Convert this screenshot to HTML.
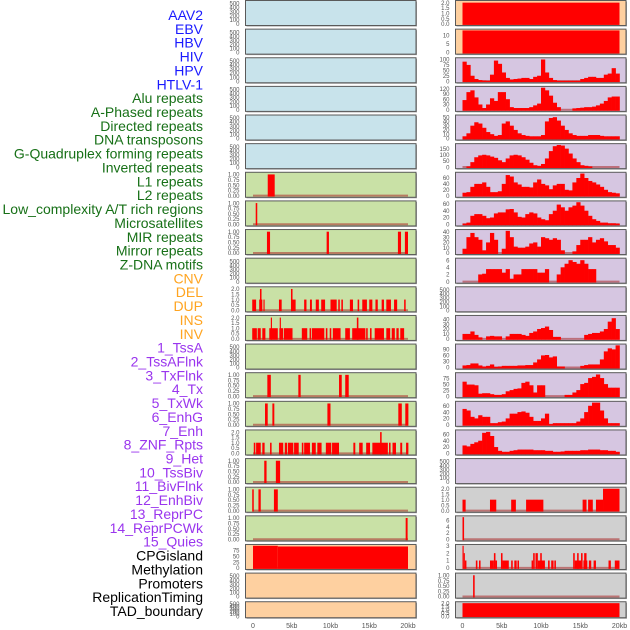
<!DOCTYPE html>
<html><head><meta charset="utf-8"><style>
html,body{margin:0;padding:0;background:#fff;}
svg{display:block;font-family:"Liberation Sans",sans-serif;}
</style></head><body>
<svg id="chart" width="630" height="630" viewBox="0 0 630 630" xmlns="http://www.w3.org/2000/svg"></svg>
<script>
// ---- labels ----
const trackLabels = ["AAV2","EBV","HBV","HIV","HPV","HTLV-1","Alu repeats","A-Phased repeats","Directed repeats","DNA transposons","G-Quadruplex forming repeats","Inverted repeats","L1 repeats","L2 repeats","Low_complexity A/T rich regions","Microsatellites","MIR repeats","Mirror repeats","Z-DNA motifs","CNV","DEL","DUP","INS","INV","1_TssA","2_TssAFlnk","3_TxFlnk","4_Tx","5_TxWk","6_EnhG","7_Enh","8_ZNF_Rpts","9_Het","10_TssBiv","11_BivFlnk","12_EnhBiv","13_ReprPC","14_ReprPCWk","15_Quies","CPGisland","Methylation","Promoters","ReplicationTiming","TAD_boundary"];
const labelGroups = ["virus","virus","virus","virus","virus","virus","rep","rep","rep","rep","rep","rep","rep","rep","rep","rep","rep","rep","rep","sv","sv","sv","sv","sv","cs","cs","cs","cs","cs","cs","cs","cs","cs","cs","cs","cs","cs","cs","cs","oth","oth","oth","oth","oth"];
const xTickValues = [0,5,10,15,20];
const xTickLabels = ["0","5kb","10kb","15kb","20kb"];

// ---- left column interval data [startKb, endKb, value] ----
const barsL7 = [[1.9,2.8,1]];
const barsL8 = [[0.35,0.55,1]];
const barsL9 = [[1.8,2.2,1],[9.5,9.8,1],[18.7,19.1,1],[19.6,20,1]];
const barsL11 = [[-0.1,0.4,1],[0.8,1.2,1],[0.9,1.1,2],[1.35,1.5,1],[3.35,3.7,1],[4.9,5.5,1],[4.9,5.1,2],[6.6,6.9,1],[7.35,7.6,1],[8.1,8.5,1],[8.8,9.3,1],[10,10.8,1],[11,11.2,1],[11.4,11.6,1],[12.5,12.9,1],[13.5,13.7,1],[14.1,14.7,1],[15,15.4,1],[15.8,16.1,1],[16.6,16.9,1],[17.2,17.8,1],[18.2,18.6,1],[19.5,19.7,1]];
const barsL12 = [[-0.1,0.5,1],[0.6,1.0,1],[1.2,1.6,1],[2.1,3.2,1],[2.3,2.45,2],[3.4,3.9,1],[3.45,3.6,2],[4.0,5.1,1],[6.3,7.0,1],[7.3,7.5,1],[7.6,9.2,1],[9.4,9.6,1],[9.9,10.1,1],[10.3,11.3,1],[11.9,12.5,1],[12.8,14.5,1],[13.4,13.6,2],[14.6,14.8,1],[15.1,15.3,1],[15.7,16.9,1],[17.2,17.7,1],[17.9,18.3,1],[18.5,18.8,1],[19.0,19.5,1]];
const barsL14 = [[1.85,2.3,1],[5.85,6.15,1],[11.1,11.45,1],[11.9,12.35,1]];
const barsL15 = [[1.55,1.9,1],[2.5,2.75,1],[9.6,10.0,1],[18.75,19.2,1],[19.65,20.05,1]];
const barsL16 = [[0.1,0.3,1],[0.4,1.0,1],[1.2,1.5,1],[2.2,2.4,1],[3.35,3.9,1],[4.1,4.4,1],[4.5,5.2,1],[5.3,5.9,1],[6.3,6.5,1],[6.6,7.35,1],[7.6,8.1,1],[8.3,8.85,1],[9.4,10.1,1],[10.2,11.1,1],[12.95,13.2,1],[13.7,14.15,1],[14.6,15.1,1],[15.4,17.4,1],[16.4,16.6,2],[17.55,17.75,1],[18.0,18.45,1],[19.0,19.25,1],[19.75,20.05,1]];
const barsL17 = [[1.45,1.75,1],[2.95,3.5,1]];
const barsL18 = [[-0.1,0.1,1],[0.7,1.0,1],[2.7,3.2,1]];
const barsL19 = [[19.7,19.95,1]];
const barsL20 = [[0,3.2,95],[3.2,20,92]];

// ---- right column binned profiles (0.5kb bins, 0..20kb) ----
const profR3 = [90,75,25,10,5,3,2,30,95,80,40,15,8,10,12,15,15,10,20,25,100,40,15,5,2,2,2,2,2,2,10,15,20,20,15,15,30,35,60,35];
const profR4 = [55,100,110,70,30,10,30,65,50,100,100,60,15,10,10,10,10,15,25,35,125,110,80,40,15,0,0,0,8,10,12,15,15,18,25,35,50,70,75,75];
const profR5 = [5,12,30,38,35,25,15,10,6,8,35,40,30,20,12,8,6,5,5,5,8,40,48,50,42,30,20,12,8,6,6,6,8,8,8,6,5,5,5,5];
const profR6 = [0,5,40,80,95,100,95,85,75,55,40,70,95,100,95,80,60,35,15,10,25,70,130,170,180,175,150,110,70,40,15,10,5,0,0,0,0,0,0,0];
const profR7 = [10,12,30,40,40,45,30,12,12,15,40,70,65,45,38,30,30,28,45,55,40,35,22,35,40,40,20,18,45,60,75,60,50,45,38,30,20,12,10,8];
const profR8 = [2,5,25,30,30,25,18,20,32,35,35,44,45,35,22,20,30,35,32,20,15,12,30,40,58,50,40,50,55,65,55,40,25,15,10,5,5,3,3,2];
const profR9 = [8,30,38,30,25,5,20,38,25,0,8,42,30,12,10,10,12,18,20,12,30,28,25,28,25,5,0,0,3,15,25,25,30,20,25,28,22,15,15,10];
const profR10 = [0,0,0,0,2,2.2,3.5,3.5,3.5,3.5,2.5,3.5,0.8,2,2,3.5,3.5,3.5,3.5,2.5,2.5,3.5,0,0,2,4,5,6,5.5,5,6,5,3.5,3.5,0,0,0,0,0,0];
const profR12 = [10,10,15,8,3,0,5,6,5,5,0,5,10,10,10,8,6,12,15,20,22,25,18,4,4,0,0,0,0,0,0,8,10,12,12,15,20,35,42,20];
const profR13 = [10,12,20,20,10,5,8,15,3,5,8,8,8,8,10,10,12,12,25,40,60,62,50,55,5,5,0,0,0,0,8,12,15,15,15,40,80,95,90,110];
const profR14 = [60,48,48,45,10,12,12,8,5,5,8,20,25,30,32,55,60,45,15,45,45,0,0,0,0,0,5,5,15,25,50,55,75,80,90,75,50,35,35,35];
const profR15 = [50,45,25,20,30,25,25,5,5,8,10,20,35,35,40,42,38,25,12,12,20,35,2,5,5,5,5,5,5,10,20,40,60,70,70,45,20,5,5,5];
const profR16 = [25,22,30,35,40,65,68,55,20,8,5,5,8,10,12,12,12,12,10,10,10,8,8,5,5,6,8,8,8,8,10,10,12,12,12,10,10,8,8,5];

// ---- right column interval data ----
const barsR1 = [[0,20,2]];
const barsR2 = [[0,20,13]];
const barsR18 = [[0,0.4,1],[3.5,4.3,1],[6.2,6.8,1],[8.1,10.3,1],[15.3,15.8,1],[16,16.6,1],[17,17.9,1],[17.9,20,2]];
const barsR19 = [[0,0.2,7]];
const barsR20 = [[0,0.15,3],[0.15,0.3,2],[0.3,0.5,1],[1.7,1.9,1],[2.1,2.3,1],[3.5,4.0,1],[4.0,4.2,2],[4.2,4.4,1],[4.9,5.1,2],[5.1,5.9,1],[6.2,6.4,1],[6.6,6.9,1],[7.0,7.2,1],[8.8,9.0,1],[9.0,9.2,2],[9.3,9.6,2],[9.6,10.5,1],[9.9,10.1,2],[10.9,11.1,1],[11.3,11.6,1],[11.7,11.9,1],[14.1,14.3,2],[14.3,15.1,1],[14.6,14.8,2],[15.1,15.3,2],[15.4,15.9,1],[15.5,15.8,2],[16.1,16.4,1],[16.7,17.0,1],[18.6,18.9,1],[19.4,20,1]];
const barsR21 = [[1.35,1.55,1]];
const barsR22 = [[0,20,2]];

// tick sets
const ticksEmpty = [0,100,200,300,400,500];
const ticksUnit = [0,0.25,0.5,0.75,1];
const ticksTwo = [0,0.5,1,1.5,2];

const BG = {blue:"#c8e3eb",green:"#c9e1a6",orange:"#fed0a0",purple:"#d6c6e1",gray:"#d0d0d0"};
const leftCfg = [
 ["blue",540,ticksEmpty,null,null],["blue",540,ticksEmpty,null,null],["blue",540,ticksEmpty,null,null],
 ["blue",540,ticksEmpty,null,null],["blue",540,ticksEmpty,null,null],["blue",540,ticksEmpty,null,null],
 ["green",1.04,ticksUnit,barsL7,null],["green",1.04,ticksUnit,barsL8,null],["green",1.04,ticksUnit,barsL9,null],
 ["green",540,ticksEmpty,null,null],["green",2.08,ticksTwo,barsL11,null],["green",2.08,ticksTwo,barsL12,null],
 ["green",540,ticksEmpty,null,null],["green",1.04,ticksUnit,barsL14,null],["green",1.04,ticksUnit,barsL15,null],
 ["green",2.08,ticksTwo,barsL16,null],["green",1.04,ticksUnit,barsL17,null],["green",1.04,ticksUnit,barsL18,null],
 ["green",1.04,ticksUnit,barsL19,null],["orange",95,[0,25,50,75],barsL20,null],["orange",540,ticksEmpty,null,null],
 ["orange",540,ticksEmpty,null,null]];
const rightCfg = [
 ["orange",2.08,ticksTwo,barsR1,null],["orange",13,[0,5,10],barsR2,null],["purple",102,[0,25,50,75,100],null,profR3],
 ["purple",125,[0,30,60,90,120],null,profR4],["purple",52,[0,10,20,30,40,50],null,profR5],["purple",180,[0,50,100,150],null,profR6],
 ["purple",75,[0,20,40,60],null,profR7],["purple",65,[0,20,40,60],null,profR8],["purple",42,[0,10,20,30,40],null,profR9],
 ["purple",6.2,[0,2,4,6],null,profR10],["purple",540,ticksEmpty,null,null],["purple",45,[0,10,20,30,40],null,profR12],
 ["purple",110,[0,30,60,90],null,profR13],["purple",92,[0,25,50,75],null,profR14],["purple",70,[0,20,40,60],null,profR15],
 ["purple",70,[0,20,40,60],null,profR16],["purple",540,ticksEmpty,null,null],["gray",2.02,ticksTwo,barsR18,null],
 ["gray",7,[0,2,4,6],barsR19,null],["gray",3,[0,1,2,3],barsR20,null],["gray",1.04,ticksUnit,barsR21,null],
 ["gray",2.02,ticksTwo,barsR22,null]];

const NS = "http://www.w3.org/2000/svg";
const svg = document.getElementById("chart");
function mk(tag, attrs, parent){ const e=document.createElementNS(NS,tag); for(const k in attrs) e.setAttribute(k,attrs[k]); (parent||svg).appendChild(e); return e; }

const labelColor = {virus:"#1a1aff",rep:"#177017",sv:"#ffa420",cs:"#9a35ee",oth:"#000"};
const labelG = mk("g",{});


trackLabels.forEach((name,i)=>{
  const t = mk("text",{x:203,y:(20+i*13.86).toFixed(1),"text-anchor":"end","font-size":"14",fill:labelColor[labelGroups[i]]},labelG);
  t.textContent = name;
  
  
});

function fmtTick(v, ticks){
  if (ticks===ticksUnit) return v.toFixed(2);
  if (ticks===ticksTwo) return v.toFixed(1);
  return String(v);
}

function drawPanel(side, i, cfg){
  const [bg, ymax, ticks, bars, prof] = cfg;
  const x0 = side===0 ? 245.5 : 455.5, w = 170.5;
  const xs = side===0 ? (kb)=>253 + kb*7.75 : (kb)=>462.5 + kb*7.85;
  const h = i===21 ? 16 : 25, t = 0.5 + i*28.63;
  const yZero = t + h - 1.6, yTop = t + 1.3;
  const ys = (v)=> yZero - (v/ymax)*(yZero - yTop);
  const g = mk("g",{});
  
  
  mk("rect",{x:x0+1,y:t+1,width:w,height:h,fill:"#a0a0a0"},g);
  mk("rect",{x:x0,y:t,width:w,height:h,fill:BG[bg],stroke:"#5a5a5a","stroke-width":"1"},g);
  const cid = "c"+side+"_"+i;
  const cp = mk("clipPath",{id:cid},g); mk("rect",{x:x0+0.5,y:t+0.5,width:w-1,height:h-1},cp);
  const mg = mk("g",{"clip-path":"url(#"+cid+")"},g);
  if (bars || prof) mk("line",{x1:xs(0),x2:xs(20),y1:yZero,y2:yZero,stroke:"rgba(170,40,40,0.55)","stroke-width":"2"},mg);
  if (bars) bars.forEach(b=>{
    const r = mk("rect",{x:xs(b[0]).toFixed(2),y:ys(b[2]).toFixed(2),width:Math.max(1,xs(b[1])-xs(b[0])).toFixed(2),height:(yZero-ys(b[2])+1).toFixed(2),fill:"#ff0000"},mg);
    
    
  });
  if (prof) prof.forEach((v,k)=>{
    if (v<=0) return;
    const r = mk("rect",{x:xs(k*0.5).toFixed(2),y:ys(v).toFixed(2),width:(xs(0.5)-xs(0)+0.3).toFixed(2),height:(yZero-ys(v)+1).toFixed(2),fill:"#ff0000"},mg);
    
    
  });
  ticks.forEach(v=>{
    const tt = mk("text",{x:x0-6,y:(ys(Math.min(v,ymax))+2.2).toFixed(1),"text-anchor":"end","font-size":"6",fill:"#555"},g);
    tt.textContent = fmtTick(v,ticks);
    
    
  });
}
leftCfg.forEach((c,i)=>drawPanel(0,i,c));
rightCfg.forEach((c,i)=>drawPanel(1,i,c));

[0,1].forEach(side=>{
  const xs = side===0 ? (kb)=>253 + kb*7.75 : (kb)=>462.5 + kb*7.85;
  xTickValues.forEach((v,k)=>{
    const tt = mk("text",{x:xs(v).toFixed(1),y:628,"text-anchor":"middle","font-size":"7",fill:"#555"});
    tt.textContent = xTickLabels[k];
    
    
  });
});
</script>
</body></html>
